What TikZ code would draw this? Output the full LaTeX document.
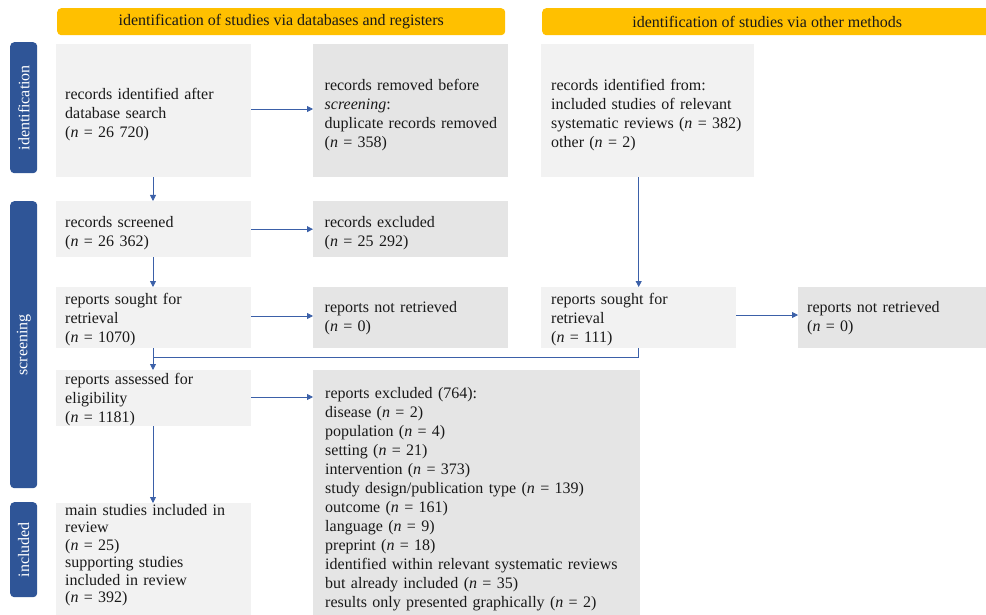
\documentclass[tikz,border=0pt]{standalone}
\usepackage{fontspec}
\setmainfont{Liberation Serif}
\usetikzlibrary{arrows.meta}
\definecolor{hdr}{HTML}{FFC000}
\definecolor{bar}{HTML}{2F5597}
\definecolor{lgray}{HTML}{F2F2F2}
\definecolor{dgray}{HTML}{E5E5E5}
\definecolor{arrc}{HTML}{3B60A8}
\newcommand{\nohyph}{\hyphenpenalty=10000\relax}
\newcommand{\nval}[1]{(\textit{n} = #1)}
\tikzset{
  box/.style={rectangle, anchor=north west, inner ysep=0pt, align=left,
    font=\fontsize{16}{19}\selectfont\nohyph, text=black!90},
  tstrut/.style={execute at begin node={\rule{0pt}{#1}}},
  lbox/.style={box, fill=lgray, inner xsep=9pt},
  dbox/.style={box, fill=dgray, inner xsep=11.5pt},
  header/.style={rectangle, rounded corners=4pt, fill=hdr, anchor=north west,
    font=\fontsize{16}{19}\selectfont, text=black!90, inner sep=0pt},
  sidebar/.style={rectangle, rounded corners=4pt, fill=bar, anchor=north west,
    inner sep=0pt},
  sidetext/.style={rotate=90, text=white, font=\fontsize{16}{19}\selectfont},
  arr/.style={draw=arrc, line width=0.8pt, -{Triangle[length=6pt,width=6pt]}},
  conn/.style={draw=arrc, line width=0.8pt},
}
\begin{document}
\begin{tikzpicture}[x=1pt,y=-1pt]
\useasboundingbox (0,0) rectangle (986,615);

% headers
\node[header, minimum width=448pt, minimum height=27pt] (h1) at (57,8) {identification of studies via databases and registers};
\node[header, minimum width=450pt, minimum height=27pt] (h2) at (542,8) {identification of studies via other methods};

% side bars
\node[sidebar, minimum width=27pt, minimum height=131pt] (b1) at (10,42) {};
\node[sidetext] (t1) at (b1.center) {identification};
\node[sidebar, minimum width=27pt, minimum height=287pt] (b2) at (10,201) {};
\node[sidetext] (t2) at (b2.center) {screening};
\node[sidebar, minimum width=27pt, minimum height=95pt] (b3) at (10,502) {};
\node[sidetext] (t3) at (b3.center) {included};

% identification row
\node[lbox, tstrut=19.5pt, minimum width=195pt, minimum height=133pt, text width=177pt] (A) at (56,44)
  {records identified after\\database search\\\nval{26 720}};
\node[dbox, tstrut=19.5pt, minimum width=195pt, minimum height=133pt, text width=172pt] (B) at (313,44)
  {records removed before\\\textit{screening}:\\\mbox{duplicate records removed}\\\nval{358}};
\node[lbox, tstrut=19.5pt, minimum width=213pt, minimum height=133pt, text width=193pt, inner xsep=10pt] (C) at (541,44)
  {records identified from:\\included studies of relevant\\\mbox{systematic reviews \nval{382}}\\other \nval{2}};

% screening
\node[lbox, tstrut=19.5pt, minimum width=195pt, minimum height=56pt, text width=177pt] (S1) at (56,201)
  {records screened\\\nval{26 362}};
\node[dbox, tstrut=19.5pt, minimum width=195pt, minimum height=56pt, text width=172pt] (E1) at (313,201)
  {records excluded\\\nval{25 292}};
\node[lbox, tstrut=14.5pt, minimum width=195pt, minimum height=61pt, text width=177pt] (S2) at (56,287)
  {reports sought for\\retrieval\\\nval{1070}};
\node[dbox, minimum width=195pt, minimum height=61pt, text width=172pt] (N1) at (313,287)
  {reports not retrieved\\\nval{0}};
\node[lbox, tstrut=14.5pt, minimum width=195pt, minimum height=61pt, text width=175pt, inner xsep=10pt] (S2b) at (541,287)
  {reports sought for\\retrieval\\\nval{111}};
\node[dbox, minimum width=188pt, minimum height=61pt, text width=170pt, inner xsep=9pt] (N2) at (798,287)
  {reports not retrieved\\\nval{0}};
\node[lbox, tstrut=14.5pt, minimum width=195pt, minimum height=56pt, text width=177pt] (S3) at (56,370)
  {reports assessed for\\eligibility\\\nval{1181}};
\node[dbox, tstrut=24pt, minimum width=327pt, minimum height=245pt, text width=303pt, inner xsep=12pt] (X) at (313,370)
  {reports excluded (764):\\disease \nval{2}\\population \nval{4}\\setting \nval{21}\\intervention \nval{373}\\study design/publication type \nval{139}\\outcome \nval{161}\\language \nval{9}\\preprint \nval{18}\\identified within relevant systematic reviews\\but already included \nval{35}\\results only presented graphically \nval{2}};

% included
\node[lbox, minimum width=195pt, minimum height=112pt, text width=177pt,
  font=\fontsize{16}{17.4}\selectfont\nohyph] (I) at (56,503)
  {main studies included in\\review\\\nval{25}\\supporting studies\\included in review\\\nval{392}\rule[-11.5pt]{0pt}{0pt}};

% connectors
\coordinate (m) at (153,357);
\draw[arr] (A.east |- 0,109) -- (B.west |- 0,109);
\draw[arr] (A.south -| 153,0) -- (S1.north -| 153,0);
\draw[arr] (S1.east) -- (E1.west);
\draw[arr] (S1.south -| 153,0) -- (S2.north -| 153,0);
\draw[arr] (S2.east |- 0,316) -- (N1.west |- 0,316);
\draw[arr] (S2b.north |- C.south) -- (S2b.north);
\draw[arr] (S2b.east |- 0,315) -- (N2.west |- 0,315);
\draw[conn] (S2b.south) |- (m);
\draw[arr] (S2.south -| 153,0) -- (S3.north -| 153,0);
\draw[arr] (S3.east |- 0,397) -- (X.west |- 0,397);
\draw[arr] (S3.south -| 153,0) -- (I.north -| 153,0);
\end{tikzpicture}
\end{document}
